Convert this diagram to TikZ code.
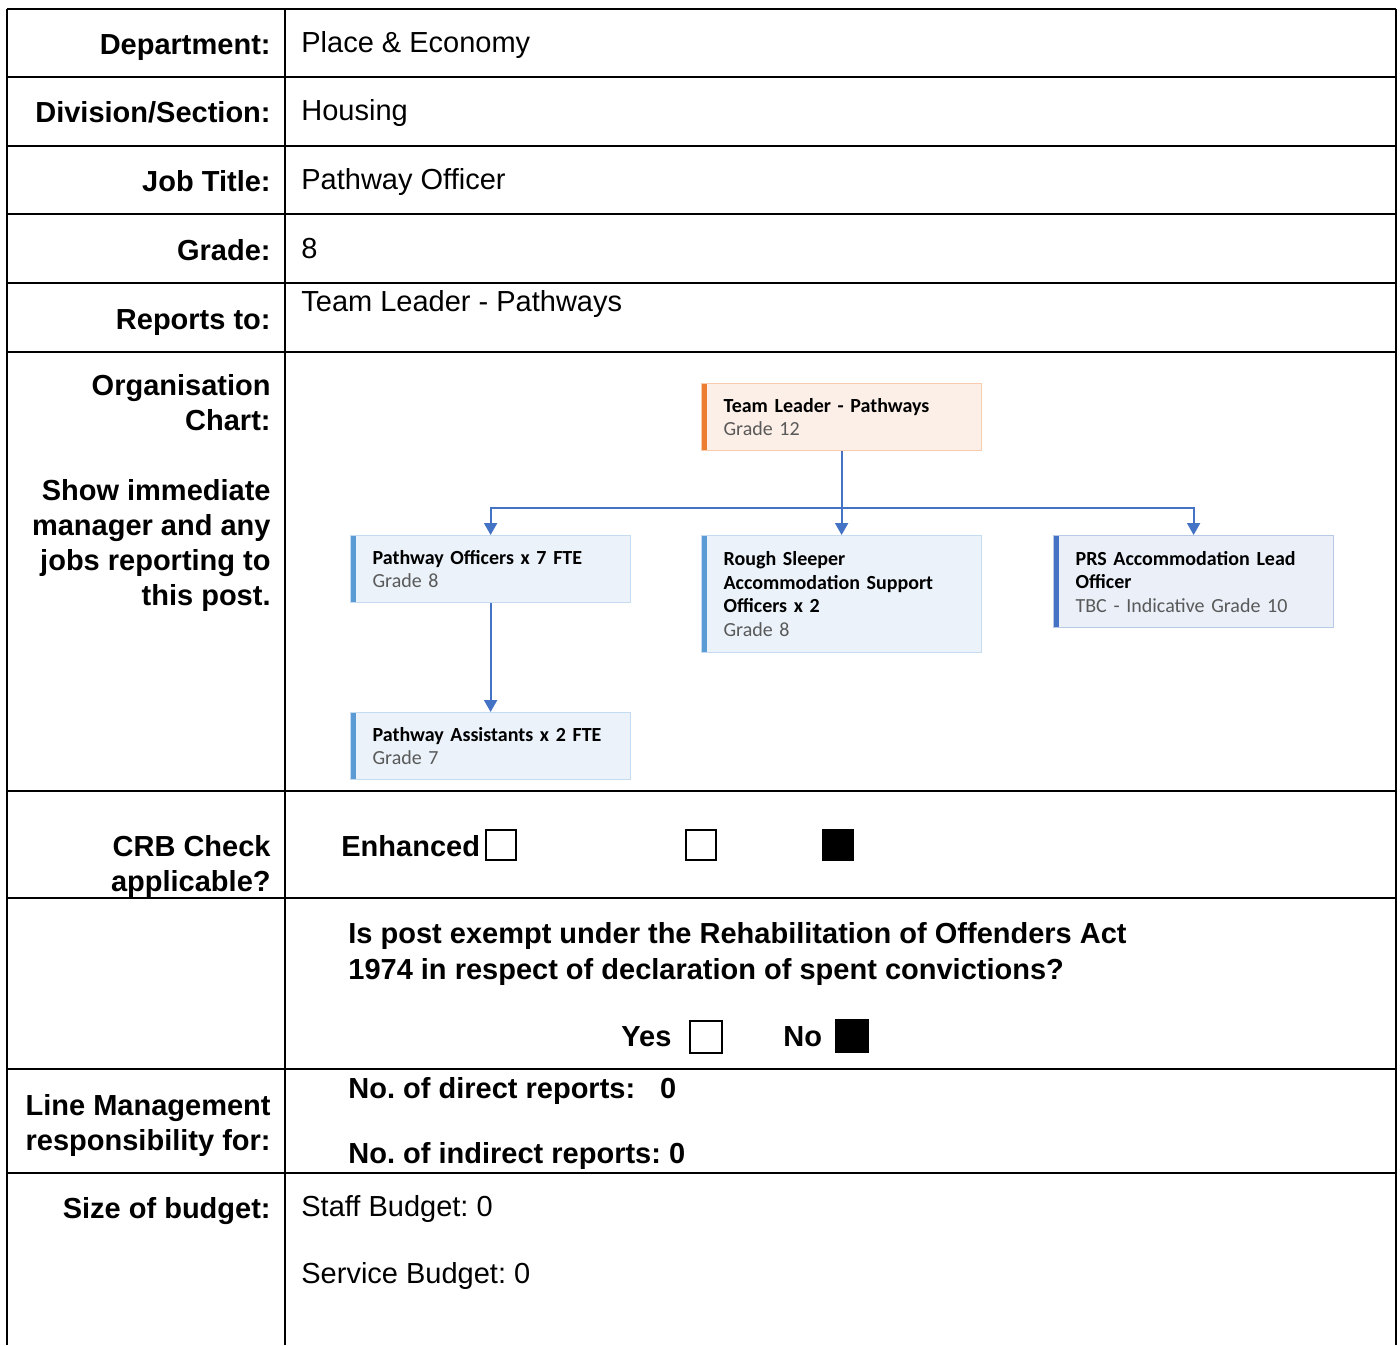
\documentclass[tikz,border=0pt]{standalone}
\usepackage{fontspec}
\setmainfont{Liberation Sans}
\newfontfamily\orgfont{Carlito}
\usetikzlibrary{arrows.meta}
\frenchspacing

\definecolor{tlbar}{HTML}{ED7D31}
\definecolor{tlfill}{HTML}{FCEFE7}
\definecolor{tledge}{HTML}{F8CBAD}
\definecolor{pobar}{HTML}{5B9BD5}
\definecolor{pofill}{HTML}{EBF2FA}
\definecolor{poedge}{HTML}{C5DCF0}
\definecolor{prsbar}{HTML}{4472C4}
\definecolor{prsfill}{HTML}{EAEFF8}
\definecolor{prsedge}{HTML}{B8C9E8}
\definecolor{linkcol}{HTML}{4472C4}
\definecolor{gradecol}{HTML}{595959}

\tikzset{
  lbl/.style={anchor=base east,inner sep=0pt,align=right,font=\fontsize{14.5}{17.5}\selectfont\bfseries},
  val/.style={anchor=base west,inner sep=0pt,align=left,font=\fontsize{14.5}{17.5}\selectfont},
  bval/.style={val,font=\fontsize{14.5}{18}\selectfont\bfseries},
  grid/.style={line width=1.2pt},
  tick/.style={draw,line width=1pt,minimum size=#1,inner sep=0pt,anchor=north west},
  orgbox/.style n args={3}{fill=#2,draw=#3,line width=0.6pt,anchor=north west,
    minimum width=140pt,text width=118pt,inner xsep=11pt,align=left,
    font=\orgfont\fontsize{10}{11.75}\selectfont,
    path picture={\fill[#1] (path picture bounding box.north west) rectangle
      ([xshift=2.5pt]path picture bounding box.south west);}},
  link/.style={draw=linkcol,line width=1pt},
  tip/.tip={Triangle[width=6.5pt,length=6pt]}
}

\begin{document}
\begin{tikzpicture}[x=0.5pt,y=-0.5pt]
	\useasboundingbox (0,0) rectangle (1400,1345);

	% table frame
	\draw[grid] (7,9) -- (1396,9);
	\draw[grid] (7,9) -- (7,1345);
	\draw[grid] (1396,9) -- (1396,1345);
	\draw[grid] (285,9) -- (285,1345);
	\draw[grid] (7,77) -- (1396,77);
	\draw[grid] (7,146) -- (1396,146);
	\draw[grid] (7,214) -- (1396,214);
	\draw[grid] (7,283) -- (1396,283);
	\draw[grid] (7,352) -- (1396,352);
	\draw[grid] (7,791) -- (1396,791);
	\draw[grid] (7,898) -- (1396,898);
	\draw[grid] (7,1069) -- (1396,1069);
	\draw[grid] (7,1173) -- (1396,1173);

	% left column (multi-line nodes sit on their last line)
	\node[lbl] (dept) at (271,54) {Department:};
	\node[lbl] (div) at (271,122) {Division/Section:};
	\node[lbl] (title) at (271,191) {Job Title:};
	\node[lbl] (grade) at (271,260) {Grade:};
	\node[lbl] (rep) at (271,329) {Reports to:};
	\node[lbl] (chart) at (271,605) {Organisation\\Chart:\\[17.5pt]Show immediate\\manager and any\\jobs reporting to\\this post.};
	\node[lbl] (crb) at (271,891) {CRB Check\\applicable?};
	\node[lbl] (lm) at (271,1150) {Line Management\\responsibility for:};
	\node[lbl] (budget) at (271,1218) {Size of budget:};

	% right column
	\node[val] (deptv) at (301,52) {Place \& Economy};
	\node[val] (divv) at (301,120) {Housing};
	\node[val] (titlev) at (301,189) {Pathway Officer};
	\node[val] (gradev) at (301,258) {8};
	\node[val] (repv) at (301,311) {Team Leader - Pathways};

	% org chart
	\node[orgbox={tlbar}{tlfill}{tledge},minimum height=33.5pt] (tl) at (701,383)
		{\textbf{Team Leader - Pathways}\\\textcolor{gradecol}{Grade 12}};
	\node[orgbox={pobar}{pofill}{poedge},minimum height=33.5pt] (po) at (350,535)
		{\textbf{Pathway Officers x 7 FTE}\\\textcolor{gradecol}{Grade 8}};
	\node[orgbox={pobar}{pofill}{poedge},minimum height=58.5pt] (rs) at (701,535)
		{\textbf{Rough Sleeper}\\\textbf{Accommodation Support}\\\textbf{Officers x 2}\\\textcolor{gradecol}{Grade 8}};
	\node[orgbox={prsbar}{prsfill}{prsedge},minimum height=46pt] (prs) at (1053,535)
		{\textbf{PRS Accommodation Lead}\\\textbf{Officer}\\\textcolor{gradecol}{TBC - Indicative Grade 10}};
	\node[orgbox={pobar}{pofill}{poedge},minimum height=33.5pt] (pa) at (350,712)
		{\textbf{Pathway Assistants x 2 FTE}\\\textcolor{gradecol}{Grade 7}};

	\coordinate (bus) at (tl.south |- 0,508);
	\draw[link] (tl.south) -- (bus);
	\draw[link,-tip] (bus) -| (po.north);
	\draw[link,-tip] (bus) -- (rs.north);
	\draw[link,-tip] (bus) -| (prs.north);
	\draw[link,-tip] (po.south) -- (pa.north);

	% CRB
	\node[bval] (enh) at (341,856) {Enhanced};
	\node[tick=15pt] (enhbox) at (485,829) {};
	\node[tick=15pt] (stdbox) at (685,829) {};
	\node[tick=15pt,fill=black] (nonebox) at (822,829) {};

	% exemption
	\node[bval] (exempt) at (348,979) {Is post exempt under the Rehabilitation of Offenders Act\\1974 in respect of declaration of spent convictions?};
	\node[bval] (yes) at (621,1046) {Yes};
	\node[tick=16pt] (yesbox) at (689,1020) {};
	\node[bval] (no) at (783,1046) {No};
	\node[tick=16pt,fill=black] (nobox) at (835,1019) {};

	% reports
	\node[bval] (direct) at (348,1098) {No. of direct reports:\hspace{12.5pt}0};
	\node[bval] (indirect) at (348,1163) {No. of indirect reports: 0};

	% budget
	\node[val] (staff) at (301,1216) {Staff Budget: 0};
	\node[val] (service) at (301,1283) {Service Budget: 0};
\end{tikzpicture}
\end{document}
